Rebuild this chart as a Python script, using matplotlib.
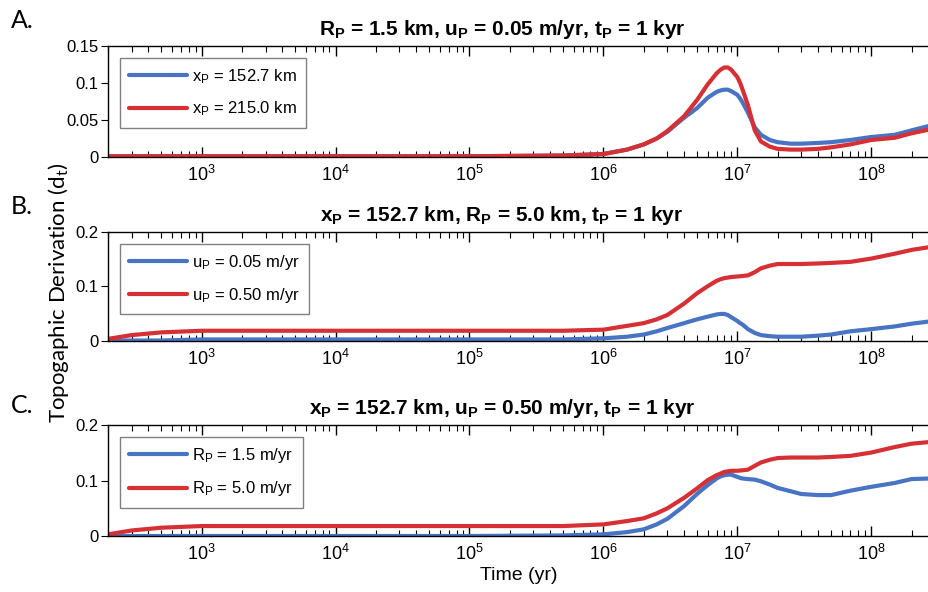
import matplotlib
matplotlib.use('Agg')
import matplotlib.pyplot as plt
from matplotlib.ticker import LogLocator, NullFormatter, FixedLocator, FixedFormatter

plt.rcParams['font.family'] = ['Liberation Sans', 'DejaVu Sans']
plt.rcParams['mathtext.fontset'] = 'custom'
plt.rcParams['mathtext.rm'] = 'Liberation Sans'
plt.rcParams['mathtext.it'] = 'Liberation Sans'
plt.rcParams['mathtext.bf'] = 'Liberation Sans:bold'

# time grid (yr)
time = [2e2, 3e2, 5e2, 1e3, 1e4, 1e5, 5e5, 1e6, 1.5e6, 2e6, 2.5e6, 3e6, 4e6, 5e6, 6e6,
        7e6, 7.5e6, 8e6, 8.5e6, 9e6, 1e7, 1.05e7, 1.1e7, 1.2e7, 1.35e7, 1.5e7, 1.75e7,
        2e7, 2.5e7, 3e7, 4e7, 5e7, 7e7, 1e8, 1.5e8, 2e8, 2.7e8]

# panel A: x_P
a_blue = [0.001, 0.001, 0.001, 0.001, 0.001, 0.001, 0.002, 0.004, 0.010, 0.017, 0.025,
          0.034, 0.053, 0.066, 0.080, 0.088, 0.090, 0.091, 0.091, 0.089, 0.084, 0.079,
          0.073, 0.060, 0.040, 0.030, 0.023, 0.020, 0.018, 0.018, 0.019, 0.020, 0.023,
          0.027, 0.030, 0.036, 0.042]
a_red = [0.001, 0.001, 0.001, 0.001, 0.001, 0.001, 0.002, 0.004, 0.010, 0.017, 0.025,
         0.035, 0.055, 0.077, 0.098, 0.113, 0.118, 0.121, 0.121, 0.118, 0.108, 0.100,
         0.090, 0.070, 0.036, 0.021, 0.014, 0.011, 0.010, 0.010, 0.011, 0.013, 0.017,
         0.023, 0.026, 0.032, 0.037]

# panel B: u_P
b_blue = [0.000, 0.000, 0.000, 0.002, 0.002, 0.002, 0.002, 0.004, 0.007, 0.011, 0.017,
          0.023, 0.032, 0.039, 0.044, 0.048, 0.049, 0.049, 0.047, 0.043, 0.036, 0.032,
          0.029, 0.021, 0.014, 0.010, 0.008, 0.007, 0.007, 0.007, 0.009, 0.011, 0.017,
          0.021, 0.026, 0.031, 0.035]
b_red = [0.003, 0.010, 0.015, 0.018, 0.018, 0.018, 0.018, 0.020, 0.027, 0.032, 0.039,
         0.047, 0.068, 0.087, 0.100, 0.110, 0.113, 0.115, 0.116, 0.117, 0.118, 0.1185,
         0.119, 0.120, 0.126, 0.133, 0.138, 0.141, 0.141, 0.141, 0.142, 0.143, 0.145,
         0.151, 0.160, 0.167, 0.172]

# panel C: R_P
c_blue = [0.000, 0.000, 0.000, 0.000, 0.000, 0.000, 0.001, 0.003, 0.007, 0.012, 0.021,
          0.031, 0.054, 0.076, 0.092, 0.104, 0.108, 0.110, 0.111, 0.111, 0.107, 0.105,
          0.104, 0.103, 0.102, 0.099, 0.093, 0.087, 0.081, 0.076, 0.074, 0.074, 0.082,
          0.089, 0.096, 0.103, 0.104]
c_red = [0.003, 0.010, 0.015, 0.018, 0.018, 0.018, 0.018, 0.021, 0.027, 0.032, 0.041,
         0.050, 0.069, 0.086, 0.101, 0.110, 0.113, 0.116, 0.117, 0.118, 0.118, 0.1185,
         0.119, 0.120, 0.127, 0.133, 0.138, 0.141, 0.142, 0.142, 0.142, 0.143, 0.145,
         0.151, 0.161, 0.167, 0.170]

titles = [r'$\mathbf{R_P}$ = 1.5 km, $\mathbf{u_P}$ = 0.05 m/yr, $\mathbf{t_P}$ = 1 kyr',
          r'$\mathbf{x_P}$ = 152.7 km, $\mathbf{R_P}$ = 5.0 km, $\mathbf{t_P}$ = 1 kyr',
          r'$\mathbf{x_P}$ = 152.7 km, $\mathbf{u_P}$ = 0.50 m/yr, $\mathbf{t_P}$ = 1 kyr']
legends = [[r'x$_\mathregular{P}$ = 152.7 km', r'x$_\mathregular{P}$ = 215.0 km'],
           [r'u$_\mathregular{P}$ = 0.05 m/yr', r'u$_\mathregular{P}$ = 0.50 m/yr'],
           [r'R$_\mathregular{P}$ = 1.5 m/yr', r'R$_\mathregular{P}$ = 5.0 m/yr']]
panel_letters = ['A.', 'B.', 'C.']
series = [(a_blue, a_red), (b_blue, b_red), (c_blue, c_red)]
xticks = [1e3, 1e4, 1e5, 1e6, 1e7, 1e8]
xticklabels = [r'$\mathregular{10^{%d}}$' % k for k in range(3, 9)]
yticks = [[0, 0.05, 0.1, 0.15], [0, 0.1, 0.2], [0, 0.1, 0.2]]
yticklabels = [['0', '0.05', '0.1', '0.15'], ['0', '0.1', '0.2'], ['0', '0.1', '0.2']]
ylims = [0.15, 0.2, 0.2]

blue = '#4874c4'
red = '#d63034'

fig = plt.figure(figsize=(9.29, 5.92), dpi=100)
boxes = [[0.1163, 0.7348, 0.8837, 0.1875],
         [0.1163, 0.4248, 0.8837, 0.1833],
         [0.1163, 0.0946, 0.8837, 0.1867]]
letter_y = [0.952, 0.639, 0.302]

for i in range(3):
    ax = fig.add_axes(boxes[i])
    ax.plot(time, series[i][0], color=blue, lw=3, label=legends[i][0], solid_capstyle='round')
    ax.plot(time, series[i][1], color=red, lw=3, label=legends[i][1], solid_capstyle='round')
    ax.set_xscale('log')
    ax.set_xlim(2e2, 2.7e8)
    ax.set_ylim(0, ylims[i])
    ax.yaxis.set_major_locator(FixedLocator(yticks[i]))
    ax.yaxis.set_major_formatter(FixedFormatter(yticklabels[i]))
    ax.xaxis.set_major_locator(FixedLocator(xticks))
    ax.xaxis.set_major_formatter(FixedFormatter(xticklabels))
    ax.xaxis.set_minor_locator(LogLocator(base=10, subs=range(2, 10), numticks=20))
    ax.xaxis.set_minor_formatter(NullFormatter())
    ax.tick_params(axis='x', which='both', direction='in', top=True, labelsize=13, pad=6)
    ax.tick_params(axis='x', which='major', length=7, width=1)
    ax.tick_params(axis='x', which='minor', length=4, width=0.8)
    ax.tick_params(axis='y', direction='out', length=5, labelsize=12, pad=2)
    for s in ax.spines.values():
        s.set_linewidth(1)
    ax.spines['right'].set_visible(False)
    ax.set_title(titles[i], fontsize=15, fontweight='bold', pad=8, x=0.48)
    leg = ax.legend(loc='upper left', fontsize=12, handlelength=3.5, labelspacing=0.85,
                    borderaxespad=0.7, fancybox=False, framealpha=1, borderpad=0.55,
                    handletextpad=0.3)
    leg.get_frame().set_edgecolor('#808080')
    leg.get_frame().set_linewidth(1)
    fig.text(0.012, letter_y[i], panel_letters[i], fontsize=18, family='Lato')
    if i == 2:
        ax.set_xlabel('Time (yr)', fontsize=14, labelpad=2)

fig.text(0.063, 0.505, r'Topogaphic Derivation (d$_\mathregular{t}$)', rotation=90,
         fontsize=16, family='Lato', ha='center', va='center')

plt.savefig('out.png', dpi=100)
